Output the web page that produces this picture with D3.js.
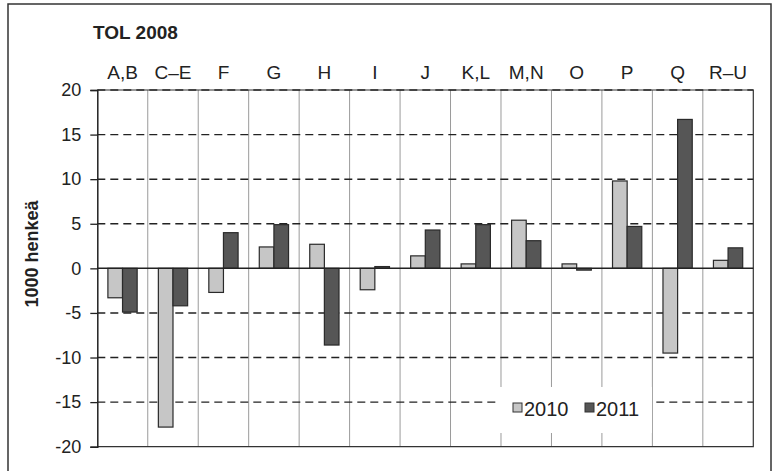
<html lang="fi">
<head>
<meta charset="utf-8">
<title>TOL 2008</title>
<script src="https://cdn.jsdelivr.net/npm/d3@7"></script>
<style>
  body { margin: 0; background: #fff; }
  text { font-family: "Liberation Sans", Arial, sans-serif; fill: #222; }
</style>
</head>
<body>
<script>
// data
var categories = ["A,B", "C\u2013E", "F", "G", "H", "I", "J", "K,L", "M,N", "O", "P", "Q", "R\u2013U"];
var series = ["2010", "2011"];
var values2010 = [-3.3, -17.8, -2.7, 2.4, 2.7, -2.4, 1.4, 0.5, 5.4, 0.5, 9.8, -9.5, 0.9];
var values2011 = [-4.9, -4.2, 4.0, 4.9, -8.6, 0.2, 4.3, 4.9, 3.1, -0.2, 4.7, 16.7, 2.3];
var yTicks = [-20, -15, -10, -5, 0, 5, 10, 15, 20];

var w = 774, h = 471;
var plotL = 97.3, plotR = 753.3, plotT = 90, plotB = 446.7;
var colors = { "2010": "#c6c6c6", "2011": "#565656" };

var svg = d3.select("body").append("svg")
    .attr("width", w)
    .attr("height", h);

// outer frame
svg.append("rect")
    .attr("x", 8).attr("y", 4)
    .attr("width", 763).attr("height", 490)
    .attr("fill", "none")
    .attr("stroke", "#333")
    .attr("stroke-width", 1.5);

var x0 = d3.scaleBand().domain(categories).range([plotL, plotR]);
var pad = 10.6;
var x1 = d3.scaleBand().domain(series).range([pad, x0.bandwidth() - pad]);
var y = d3.scaleLinear().domain([-20, 20]).range([plotB, plotT]);

// category separators
svg.append("g").selectAll("line")
   .data(categories.slice(1))
   .enter().append("line")
   .attr("x1", function(d) { return x0(d); })
   .attr("x2", function(d) { return x0(d); })
   .attr("y1", plotT).attr("y2", plotB)
   .attr("stroke", "#9a9a9a")
   .attr("stroke-width", 1);

// dashed gridlines
svg.append("g").selectAll("line")
   .data(yTicks.filter(function(d) { return d != 0 && d != -20; }))
   .enter().append("line")
   .attr("x1", plotL).attr("x2", plotR)
   .attr("y1", function(d) { return y(d); })
   .attr("y2", function(d) { return y(d); })
   .attr("stroke", "#222")
   .attr("stroke-width", 1.4)
   .attr("stroke-dasharray", "8,5");

// plot border (right, bottom, top)
svg.append("path")
   .attr("d", "M" + plotL + "," + plotT + "H" + plotR + "V" + plotB + "H" + plotL)
   .attr("fill", "none")
   .attr("stroke", "#333")
   .attr("stroke-width", 1.2);

// legend background
var lg = svg.append("g");
lg.append("rect")
  .attr("x", 500).attr("y", 387)
  .attr("width", 152).attr("height", 46)
  .attr("fill", "#fff");

// bars
var groups = svg.append("g").selectAll("g")
    .data(categories)
    .enter().append("g")
    .attr("transform", function(d) { return "translate(" + x0(d) + ",0)"; });

groups.selectAll("rect")
    .data(function(d, i) {
        return [{ s: "2010", v: values2010[i] }, { s: "2011", v: values2011[i] }];
    })
    .enter().append("rect")
    .attr("x", function(d) { return x1(d.s); })
    .attr("y", function(d) { return y(Math.max(0, d.v)); })
    .attr("width", x1.bandwidth())
    .attr("height", function(d) { return Math.abs(y(d.v) - y(0)); })
    .attr("fill", function(d) { return colors[d.s]; })
    .attr("stroke", "#2a2a2a")
    .attr("stroke-width", 1.2);

// zero line
svg.append("line")
   .attr("x1", plotL).attr("x2", plotR)
   .attr("y1", y(0)).attr("y2", y(0))
   .attr("stroke", "#222")
   .attr("stroke-width", 1.5);

// y axis
var yAxis = d3.axisLeft(y).tickValues(yTicks).tickSize(7).tickPadding(9)
    .tickFormat(function(d) { return String(d); });
var ga = svg.append("g")
    .attr("transform", "translate(" + plotL + ",0)")
    .call(yAxis);
ga.select(".domain").attr("stroke", "#222").attr("stroke-width", 1.5);
ga.selectAll(".tick line").attr("stroke", "#222").attr("stroke-width", 1.3);
ga.selectAll(".tick text")
  .attr("font-size", "18px")
  .attr("font-family", "Liberation Sans, Arial, sans-serif")
  .attr("fill", "#222");

// category labels
svg.append("g").selectAll("text")
   .data(categories)
   .enter().append("text")
   .attr("x", function(d) { return x0(d) + x0.bandwidth() / 2; })
   .attr("y", 79)
   .attr("text-anchor", "middle")
   .attr("font-size", "19px")
   .text(function(d) { return d; });

// title
svg.append("text")
   .attr("x", 93)
   .attr("y", 39)
   .attr("font-size", "19px")
   .attr("font-weight", "bold")
   .text("TOL 2008");

// y label
svg.append("text")
   .attr("transform", "translate(38,254) rotate(-90)")
   .attr("text-anchor", "middle")
   .attr("font-size", "18px")
   .attr("font-weight", "bold")
   .text("1000 henkeä");

// legend
var legendX = [513, 585];
series.forEach(function(s, i) {
    lg.append("rect")
      .attr("x", legendX[i]).attr("y", 403)
      .attr("width", 9).attr("height", 9)
      .attr("fill", colors[s])
      .attr("stroke", "#333")
      .attr("stroke-width", 1);
    lg.append("text")
      .attr("x", legendX[i] + 11)
      .attr("y", 416)
      .attr("font-size", "20px")
      .text(s);
});
</script>
</body>
</html>
